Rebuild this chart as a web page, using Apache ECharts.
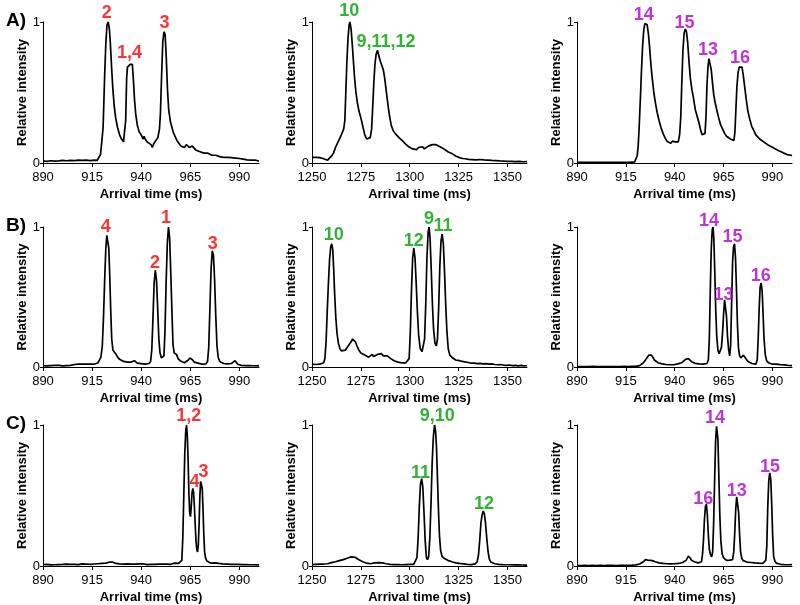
<!DOCTYPE html>
<html>
<head>
<meta charset="utf-8">
<script src="https://cdn.jsdelivr.net/npm/echarts@6/dist/echarts.min.js"></script>
<style>
html,body{margin:0;padding:0;background:#fff;}
#chart{width:800px;height:605px;}
</style>
</head>
<body>
<div id="chart"></div>
<script>
// ---------- tick labels ----------
const ticksLow = [890, 915, 940, 965, 990];
const ticksHigh = [1250, 1275, 1300, 1325, 1350];
const rangeLow = [890, 1000];
const rangeHigh = [1250, 1360];
const rowLetters = ['A)', 'B)', 'C)'];
const xName = 'Arrival time (ms)';
const yName = 'Relative intensity';
const labelColors = ['#ff0000', '#00a000', '#b000d0'];

// ---------- traces [arrival time (ms), relative intensity] ----------
const traceA1 = [[890,0.015],[892,0.012],[894,0.016],[896,0.013],[898,0.015],[900,0.018],[902,0.016],[904,0.019],[906,0.017],[908,0.02],[910,0.018],[912,0.021],[914,0.017],[916,0.02],[917.5,0.018],[918.5,0.03],[919.3,0.06],[920,0.16],[920.6,0.25],[921.4,0.62],[922,0.85],[922.6,0.98],[923.2,1.0],[923.8,0.95],[924.3,0.85],[925,0.66],[925.6,0.52],[926.3,0.40],[927,0.32],[928,0.25],[929,0.2],[930,0.17],[931,0.15],[931.6,0.16],[932.1,0.3],[932.6,0.6],[933,0.68],[933.7,0.69],[934.4,0.7],[935,0.71],[935.5,0.7],[936,0.6],[936.6,0.45],[937.2,0.35],[938,0.27],[939,0.22],[940,0.2],[940.6,0.21],[941,0.17],[941.5,0.19],[942,0.17],[943,0.15],[944,0.15],[945,0.13],[945.7,0.11],[946.5,0.14],[947.5,0.15],[948.5,0.18],[949.3,0.24],[949.8,0.35],[950.4,0.62],[951,0.86],[951.6,0.93],[952.2,0.91],[952.8,0.74],[953.4,0.52],[954,0.38],[954.8,0.3],[955.5,0.26],[956.3,0.22],[957.2,0.19],[958.2,0.16],[959.2,0.14],[960.2,0.12],[961.2,0.11],[962,0.11],[963,0.13],[963.8,0.14],[964.5,0.11],[965.3,0.10],[966,0.12],[967,0.11],[968,0.09],[969,0.095],[970,0.08],[971,0.075],[972,0.07],[973,0.063],[974,0.07],[975,0.06],[976,0.055],[977,0.06],[978,0.055],[979,0.05],[980,0.045],[981,0.05],[982,0.04],[983,0.042],[984,0.04],[985,0.035],[986,0.038],[987,0.032],[988,0.035],[989,0.03],[990,0.032],[991,0.026],[992,0.028],[993,0.024],[994,0.022],[995,0.025],[996,0.02],[997,0.018],[998,0.02],[999,0.015],[1000,0.014]];

const traceA2 = [[1250,0.04],[1251,0.038],[1252,0.04],[1253,0.036],[1254,0.038],[1255,0.034],[1256,0.03],[1257,0.022],[1258,0.02],[1259,0.03],[1260,0.05],[1261,0.07],[1262,0.11],[1263,0.14],[1264,0.17],[1265,0.2],[1265.6,0.22],[1266.2,0.24],[1266.8,0.3],[1267.3,0.5],[1267.8,0.7],[1268.4,0.88],[1269,0.98],[1269.4,1.0],[1270,0.95],[1270.6,0.84],[1271.2,0.72],[1271.8,0.6],[1272.5,0.5],[1273.2,0.43],[1274,0.37],[1275,0.32],[1276,0.26],[1277,0.2],[1278,0.17],[1279,0.16],[1279.8,0.18],[1280.5,0.24],[1281,0.38],[1281.6,0.56],[1282.2,0.7],[1282.8,0.77],[1283.5,0.8],[1284.2,0.76],[1285,0.72],[1285.8,0.69],[1286.5,0.66],[1287.2,0.6],[1288,0.51],[1288.8,0.42],[1289.6,0.34],[1290.5,0.27],[1291.5,0.23],[1292.5,0.21],[1293.5,0.2],[1294.5,0.18],[1295.5,0.17],[1296.5,0.155],[1297.5,0.14],[1298.5,0.135],[1299.5,0.115],[1300.5,0.11],[1301.5,0.1],[1302.5,0.105],[1303.5,0.095],[1304.5,0.11],[1305.5,0.1],[1306.5,0.115],[1307.5,0.1],[1308.5,0.11],[1309.5,0.12],[1310.5,0.125],[1311.5,0.13],[1312.5,0.14],[1313.5,0.13],[1314.5,0.135],[1315.5,0.115],[1316.5,0.11],[1317.5,0.1],[1318.5,0.09],[1319.5,0.08],[1320.5,0.07],[1321.5,0.068],[1322.5,0.055],[1323.5,0.05],[1324.5,0.045],[1325.5,0.038],[1327,0.032],[1328.5,0.03],[1330,0.026],[1332,0.024],[1334,0.022],[1336,0.025],[1338,0.022],[1340,0.02],[1342,0.018],[1344,0.017],[1346,0.015],[1348,0.014],[1350,0.012],[1352,0.012],[1354,0.01],[1356,0.011],[1358,0.009],[1360,0.01]];

const traceA3 = [[890,0.005],[893,0.004],[896,0.005],[899,0.004],[902,0.005],[905,0.004],[908,0.005],[911,0.004],[914,0.005],[917,0.005],[919.5,0.008],[920.3,0.02],[920.8,0.05],[921.3,0.12],[921.8,0.25],[922.4,0.45],[923,0.66],[923.6,0.84],[924.2,0.95],[924.8,0.99],[925.3,1.0],[925.9,0.98],[926.5,0.92],[927.1,0.83],[927.8,0.7],[928.5,0.6],[929.3,0.5],[930.2,0.42],[931,0.36],[932,0.3],[933,0.25],[934,0.21],[935,0.18],[936,0.155],[937,0.145],[938,0.14],[938.8,0.155],[939.5,0.16],[940.2,0.15],[941,0.14],[941.8,0.15],[942.5,0.2],[943.1,0.33],[943.6,0.56],[944.2,0.8],[944.8,0.92],[945.4,0.95],[946,0.93],[946.6,0.86],[947.3,0.72],[948,0.6],[948.8,0.52],[949.6,0.46],[950.5,0.38],[951.5,0.33],[952.5,0.28],[953.3,0.23],[954,0.2],[954.8,0.19],[955.5,0.21],[956,0.33],[956.5,0.55],[957,0.68],[957.5,0.74],[958.1,0.74],[958.7,0.66],[959.3,0.57],[960,0.48],[960.8,0.42],[961.6,0.37],[962.5,0.32],[963.5,0.27],[964.5,0.24],[965.5,0.21],[966.5,0.19],[967.5,0.18],[968.5,0.17],[969.5,0.165],[970.3,0.16],[970.8,0.22],[971.3,0.38],[971.8,0.54],[972.4,0.64],[973,0.68],[973.7,0.69],[974.4,0.68],[975,0.63],[975.7,0.55],[976.5,0.46],[977.4,0.37],[978.4,0.31],[979.4,0.26],[980.5,0.23],[981.5,0.2],[982.5,0.19],[983.5,0.17],[984.5,0.16],[985.5,0.15],[986.5,0.14],[987.5,0.13],[988.5,0.12],[989.5,0.115],[990.5,0.11],[991.5,0.1],[992.5,0.09],[993.5,0.085],[994.5,0.08],[995.5,0.072],[996.5,0.065],[997.5,0.06],[998.5,0.058],[999.5,0.055],[1000,0.052]];

const traceB1 = [[890,0.01],[891,0.015],[892,0.008],[893,0.012],[894,0.01],[895,0.007],[896,0.011],[897,0.009],[898,0.012],[899,0.01],[900,0.008],[901,0.012],[902,0.01],[903,0.014],[904,0.012],[905,0.016],[906,0.018],[907,0.016],[908,0.02],[909,0.018],[910,0.02],[911,0.017],[912,0.02],[913,0.018],[914,0.02],[915,0.022],[916,0.02],[917,0.025],[918,0.03],[918.8,0.04],[919.5,0.07],[920.2,0.15],[920.8,0.35],[921.4,0.62],[922,0.85],[922.5,0.94],[923,0.95],[923.5,0.85],[924,0.65],[924.5,0.4],[925,0.2],[925.6,0.12],[926.3,0.11],[927,0.095],[928,0.07],[929,0.055],[930,0.045],[931,0.04],[932,0.035],[933,0.035],[934,0.03],[935,0.035],[936,0.04],[936.5,0.045],[937,0.035],[938,0.028],[939,0.025],[940,0.024],[941,0.022],[942,0.02],[943,0.022],[944,0.025],[944.8,0.04],[945.4,0.12],[946,0.35],[946.6,0.6],[947.2,0.69],[947.8,0.62],[948.4,0.42],[949,0.2],[949.6,0.1],[950.3,0.065],[951,0.06],[951.6,0.08],[952.1,0.25],[952.7,0.6],[953.3,0.88],[953.9,1.0],[954.5,0.92],[955.1,0.66],[955.7,0.38],[956.2,0.16],[956.8,0.1],[957.4,0.11],[958,0.09],[958.8,0.06],[959.8,0.045],[960.8,0.035],[962,0.03],[963,0.035],[964,0.05],[964.8,0.065],[965.5,0.07],[966.2,0.05],[967,0.035],[968,0.03],[969,0.028],[970,0.025],[971,0.02],[972,0.02],[973,0.022],[973.8,0.04],[974.4,0.14],[975,0.42],[975.6,0.7],[976.2,0.83],[976.8,0.8],[977.4,0.62],[978,0.36],[978.6,0.15],[979.2,0.07],[980,0.04],[981,0.03],[982,0.025],[983,0.02],[984,0.022],[985,0.02],[986,0.025],[987,0.03],[987.8,0.045],[988.5,0.04],[989.2,0.02],[990,0.015],[991,0.012],[992,0.014],[993,0.01],[994,0.012],[995,0.01],[996,0.013],[997,0.009],[998,0.011],[999,0.008],[1000,0.01]];

const traceB2 = [[1250,0.02],[1251,0.022],[1252,0.018],[1253,0.022],[1254,0.02],[1255,0.024],[1256,0.03],[1256.6,0.06],[1257.2,0.18],[1257.8,0.4],[1258.4,0.6],[1259,0.77],[1259.6,0.86],[1260.1,0.88],[1260.6,0.84],[1261.1,0.7],[1261.6,0.52],[1262.2,0.35],[1262.8,0.24],[1263.5,0.17],[1264.3,0.13],[1265,0.115],[1266,0.11],[1267,0.12],[1268,0.13],[1269,0.16],[1270,0.18],[1270.8,0.2],[1271.5,0.21],[1272.2,0.18],[1273,0.15],[1274,0.12],[1275,0.1],[1276,0.09],[1277,0.085],[1278,0.075],[1279,0.07],[1280,0.08],[1280.8,0.09],[1281.5,0.075],[1282.5,0.07],[1283.5,0.09],[1284.5,0.085],[1285.5,0.095],[1286.5,0.08],[1287.5,0.07],[1288.5,0.08],[1289.5,0.09],[1290.3,0.06],[1291,0.05],[1292,0.045],[1293,0.04],[1294,0.035],[1295,0.035],[1296,0.03],[1297,0.032],[1298,0.03],[1299,0.03],[1299.7,0.06],[1300.3,0.25],[1300.9,0.55],[1301.5,0.78],[1302.1,0.85],[1302.7,0.78],[1303.3,0.6],[1303.9,0.4],[1304.6,0.22],[1305.4,0.13],[1306.3,0.11],[1307,0.12],[1307.6,0.2],[1308.2,0.45],[1308.8,0.78],[1309.4,0.96],[1309.9,1.0],[1310.4,0.92],[1311,0.7],[1311.6,0.45],[1312.2,0.27],[1312.9,0.17],[1313.6,0.15],[1314.2,0.2],[1314.8,0.42],[1315.4,0.72],[1316,0.9],[1316.6,0.95],[1317.2,0.88],[1317.8,0.68],[1318.4,0.45],[1319,0.26],[1319.7,0.13],[1320.5,0.085],[1321.5,0.07],[1322.5,0.06],[1323.5,0.05],[1324.5,0.042],[1325.5,0.045],[1326.5,0.035],[1327.5,0.038],[1328.5,0.03],[1330,0.032],[1331.5,0.027],[1333,0.028],[1334.5,0.024],[1336,0.026],[1337.5,0.022],[1339,0.024],[1340.5,0.02],[1342,0.022],[1343.5,0.018],[1345,0.016],[1346.5,0.018],[1348,0.014],[1349.5,0.012],[1351,0.014],[1352.5,0.01],[1354,0.012],[1355.5,0.008],[1357,0.011],[1358.5,0.008],[1360,0.009]];

const traceB3 = [[890,0.003],[892,0.002],[894,0.003],[896,0.002],[898,0.004],[900,0.003],[902,0.002],[904,0.003],[906,0.003],[908,0.002],[910,0.003],[912,0.003],[914,0.004],[916,0.003],[918,0.004],[920,0.005],[921,0.006],[922,0.01],[923,0.015],[924,0.03],[925,0.05],[926,0.07],[926.8,0.085],[927.4,0.09],[928,0.085],[928.8,0.07],[929.6,0.05],[930.5,0.038],[931.5,0.03],[932.5,0.025],[933.5,0.022],[934.5,0.02],[935.5,0.018],[936.5,0.017],[937.5,0.016],[938.5,0.018],[939.5,0.016],[940.5,0.02],[941.5,0.022],[942.5,0.025],[943.5,0.03],[944.5,0.04],[945.5,0.055],[946.3,0.065],[947,0.06],[947.8,0.05],[948.6,0.038],[949.5,0.03],[950.5,0.026],[951.5,0.024],[952.5,0.022],[953.5,0.02],[954.5,0.02],[955.5,0.022],[956.5,0.025],[957.2,0.05],[957.7,0.2],[958.2,0.55],[958.7,0.85],[959.2,0.98],[959.6,1.0],[960,0.92],[960.5,0.68],[961,0.4],[961.5,0.22],[962.1,0.12],[962.7,0.095],[963.3,0.1],[963.9,0.14],[964.5,0.25],[965,0.38],[965.5,0.48],[966,0.47],[966.5,0.36],[967,0.22],[967.6,0.12],[968.1,0.08],[968.6,0.15],[969.1,0.45],[969.6,0.75],[970.1,0.86],[970.6,0.88],[971.1,0.78],[971.6,0.55],[972.1,0.3],[972.6,0.14],[973.2,0.08],[973.8,0.065],[974.5,0.075],[975.2,0.085],[975.9,0.075],[976.6,0.055],[977.5,0.04],[978.5,0.03],[979.5,0.025],[980.5,0.022],[981.5,0.02],[982.2,0.05],[982.7,0.2],[983.2,0.42],[983.7,0.57],[984.2,0.6],[984.7,0.55],[985.2,0.38],[985.7,0.2],[986.3,0.09],[987,0.045],[988,0.03],[989,0.025],[990,0.02],[991,0.018],[992,0.02],[993,0.015],[994,0.017],[995,0.013],[996,0.015],[997,0.01],[998,0.012],[999,0.008],[1000,0.01]];

const traceC1 = [[890,0.01],[891,0.008],[892,0.012],[893,0.01],[894,0.008],[895,0.011],[896,0.009],[897,0.012],[898,0.01],[899,0.007],[900,0.011],[901,0.009],[902,0.013],[903,0.01],[904,0.012],[905,0.016],[906,0.012],[907,0.014],[908,0.01],[909,0.013],[910,0.015],[911,0.012],[912,0.014],[913,0.01],[914,0.012],[915,0.011],[916,0.014],[917,0.012],[918,0.016],[919,0.014],[920,0.018],[921,0.016],[922,0.02],[923,0.024],[924,0.028],[924.7,0.035],[925.4,0.028],[926,0.022],[927,0.018],[928,0.02],[929,0.015],[930,0.018],[931,0.014],[932,0.012],[933,0.015],[934,0.011],[935,0.013],[936,0.01],[937,0.014],[938,0.012],[939,0.015],[940,0.012],[941,0.016],[942,0.013],[943,0.01],[944,0.013],[945,0.011],[946,0.014],[947,0.012],[948,0.01],[949,0.013],[950,0.011],[951,0.014],[952,0.01],[953,0.013],[954,0.016],[955,0.012],[956,0.015],[957,0.02],[958,0.016],[959,0.018],[960,0.015],[960.7,0.04],[961.2,0.2],[961.7,0.5],[962.2,0.8],[962.7,0.96],[963.1,1.0],[963.5,0.92],[963.9,0.75],[964.3,0.52],[964.7,0.38],[965.1,0.35],[965.5,0.42],[965.9,0.52],[966.3,0.55],[966.7,0.52],[967.1,0.42],[967.5,0.3],[967.9,0.18],[968.3,0.12],[968.7,0.1],[969.1,0.15],[969.5,0.3],[969.9,0.5],[970.3,0.6],[970.7,0.61],[971.1,0.55],[971.5,0.4],[971.9,0.22],[972.3,0.1],[972.8,0.055],[973.5,0.035],[974.5,0.025],[975.5,0.02],[976.5,0.018],[977.5,0.022],[978.5,0.016],[979.5,0.018],[980.5,0.014],[981.5,0.015],[982.5,0.012],[983.5,0.014],[984.5,0.011],[985.5,0.012],[986.5,0.01],[987.5,0.012],[988.5,0.009],[989.5,0.011],[990.5,0.009],[991.5,0.01],[992.5,0.008],[993.5,0.01],[994.5,0.008],[995.5,0.009],[996.5,0.007],[997.5,0.009],[998.5,0.007],[1000,0.008]];

const traceC2 = [[1250,0.01],[1251,0.008],[1252,0.012],[1253,0.01],[1254,0.013],[1255,0.011],[1256,0.014],[1257,0.012],[1258,0.016],[1259,0.018],[1260,0.024],[1261,0.026],[1262,0.03],[1263,0.035],[1264,0.038],[1265,0.042],[1266,0.045],[1267,0.05],[1268,0.055],[1269,0.06],[1270,0.065],[1271,0.058],[1272,0.062],[1273,0.05],[1274,0.045],[1275,0.035],[1276,0.03],[1277,0.026],[1278,0.02],[1279,0.018],[1280,0.016],[1281,0.02],[1282,0.022],[1283,0.025],[1284,0.024],[1285,0.026],[1286,0.022],[1287,0.018],[1288,0.016],[1289,0.013],[1290,0.012],[1291,0.014],[1292,0.01],[1293,0.012],[1294,0.01],[1295,0.011],[1296,0.009],[1297,0.012],[1298,0.01],[1299,0.012],[1300,0.011],[1301,0.013],[1302,0.012],[1303,0.018],[1303.7,0.06],[1304.3,0.2],[1304.9,0.42],[1305.5,0.58],[1306.1,0.62],[1306.7,0.56],[1307.3,0.38],[1307.9,0.18],[1308.5,0.06],[1309.1,0.045],[1309.7,0.07],[1310.3,0.2],[1310.9,0.45],[1311.5,0.74],[1312.1,0.92],[1312.7,1.0],[1313.2,0.96],[1313.7,0.84],[1314.2,0.62],[1314.7,0.4],[1315.2,0.22],[1315.8,0.11],[1316.5,0.07],[1317.5,0.055],[1318.5,0.045],[1319.5,0.04],[1320.5,0.035],[1321.5,0.03],[1322.5,0.028],[1323.5,0.022],[1324.5,0.02],[1325.5,0.018],[1326.5,0.016],[1327.5,0.015],[1328.5,0.014],[1329.5,0.012],[1330.5,0.013],[1331.5,0.01],[1332.5,0.012],[1333.5,0.015],[1334.5,0.03],[1335.2,0.08],[1335.8,0.18],[1336.4,0.3],[1337,0.36],[1337.6,0.39],[1338.2,0.37],[1338.8,0.3],[1339.4,0.2],[1340,0.11],[1340.7,0.05],[1341.5,0.028],[1342.5,0.02],[1343.5,0.016],[1344.5,0.014],[1345.5,0.012],[1346.5,0.013],[1347.5,0.01],[1348.5,0.012],[1349.5,0.009],[1350.5,0.011],[1351.5,0.009],[1352.5,0.01],[1353.5,0.008],[1354.5,0.01],[1355.5,0.008],[1356.5,0.009],[1357.5,0.007],[1358.5,0.009],[1359.5,0.006],[1360,0.008]];

const traceC3 = [[890,0.004],[892,0.003],[894,0.004],[896,0.003],[898,0.004],[900,0.003],[902,0.004],[904,0.003],[906,0.004],[908,0.004],[910,0.003],[912,0.005],[914,0.004],[916,0.005],[918,0.006],[920,0.008],[921,0.01],[922,0.014],[923,0.02],[924,0.03],[925,0.045],[925.6,0.05],[926.2,0.042],[926.8,0.05],[927.4,0.04],[928,0.048],[928.6,0.038],[929.3,0.04],[930,0.03],[931,0.028],[932,0.022],[933,0.025],[934,0.018],[935,0.02],[936,0.016],[937,0.018],[938,0.015],[939,0.018],[940,0.016],[941,0.02],[942,0.018],[943,0.022],[944,0.025],[945,0.03],[945.8,0.04],[946.4,0.05],[947,0.07],[947.5,0.075],[948,0.055],[948.6,0.04],[949.2,0.045],[950,0.03],[951,0.025],[952,0.022],[953,0.025],[953.7,0.03],[954.2,0.08],[954.7,0.18],[955.2,0.33],[955.7,0.42],[956.2,0.44],[956.7,0.36],[957.2,0.22],[957.7,0.12],[958.3,0.08],[958.9,0.065],[959.4,0.1],[959.9,0.3],[960.4,0.6],[960.9,0.88],[961.4,0.99],[961.7,1.0],[962.1,0.9],[962.6,0.62],[963.1,0.35],[963.6,0.18],[964.2,0.09],[964.9,0.06],[965.7,0.05],[966.5,0.04],[967.3,0.038],[968.1,0.042],[968.9,0.04],[969.6,0.045],[970.2,0.1],[970.7,0.23],[971.2,0.4],[971.7,0.49],[972.2,0.49],[972.7,0.38],[973.2,0.22],[973.7,0.1],[974.3,0.055],[975,0.038],[976,0.03],[977,0.028],[978,0.022],[979,0.025],[980,0.02],[981,0.022],[982,0.018],[983,0.02],[984,0.017],[985,0.019],[986,0.02],[986.6,0.04],[987.1,0.14],[987.6,0.42],[988.1,0.6],[988.6,0.66],[989.1,0.62],[989.6,0.45],[990.1,0.22],[990.6,0.07],[991.2,0.035],[992,0.02],[993,0.018],[994,0.012],[995,0.016],[996,0.01],[997,0.014],[998,0.009],[999,0.012],[1000,0.01]];

// ---------- peak annotations [time, intensity at label centre, text] ----------
const peaksA1 = [[922.5,1.066,'2'],[934.1,0.777,'1,4'],[951.9,0.995,'3']];
const peaksA2 = [[1269.1,1.08,'10'],[1287.9,0.86,'9,11,12']];
const peaksA3 = [[924.2,1.05,'14'],[945.0,0.99,'15'],[957.0,0.80,'13'],[973.4,0.742,'16']];
const peaksB1 = [[921.9,1.0,'4'],[947.1,0.743,'2'],[952.7,1.067,'1'],[976.4,0.88,'3']];
const peaksB2 = [[1261.1,0.94,'10'],[1302.1,0.9,'12'],[1309.8,1.06,'9'],[1317.0,1.01,'11']];
const peaksB3 = [[957.5,1.04,'14'],[969.5,0.93,'15'],[964.9,0.517,'13'],[984.0,0.648,'16']];
const peaksC1 = [[964.2,1.064,'1,2'],[967.1,0.597,'4'],[971.7,0.668,'3']];
const peaksC2 = [[1314.1,1.064,'9,10'],[1305.5,0.661,'11'],[1338.0,0.443,'12']];
const peaksC3 = [[960.6,1.048,'14'],[954.6,0.472,'16'],[971.7,0.533,'13'],[988.8,0.704,'15']];

// ---------- layout ----------
const colLeft = [43, 312, 577];
const colWidth = [216, 215, 215];
const rowTop = [22, 227, 425];
const rowHeight = [141, 140, 141];

const traces = [traceA1, traceA2, traceA3, traceB1, traceB2, traceB3, traceC1, traceC2, traceC3];
const peaks = [peaksA1, peaksA2, peaksA3, peaksB1, peaksB2, peaksB3, peaksC1, peaksC2, peaksC3];

const FONT = '"Liberation Sans", Arial, sans-serif';
const grids = [], xAxes = [], yAxes = [], series = [];

for (let r = 0; r < 3; r++) {
  for (let c = 0; c < 3; c++) {
    const i = r * 3 + c;
    const range = c === 1 ? rangeHigh : rangeLow;
    const ticks = c === 1 ? ticksHigh : ticksLow;
    grids.push({ left: colLeft[c], top: rowTop[r], width: colWidth[c], height: rowHeight[r], containLabel: false });
    xAxes.push({
      gridIndex: i, type: 'value', min: range[0], max: range[1],
      axisLine: { show: true, lineStyle: { color: '#000', width: 1 } },
      axisTick: { show: true, length: 4, lineStyle: { color: '#000' }, customValues: ticks },
      axisLabel: { customValues: ticks, formatter: v => String(v), fontSize: 13, color: '#000', margin: 8, fontFamily: FONT },
      splitLine: { show: false },
      name: xName, nameLocation: 'middle', nameGap: 25,
      nameTextStyle: { fontSize: 13, fontWeight: 'bold', color: '#000', fontFamily: FONT }
    });
    yAxes.push({
      gridIndex: i, type: 'value', min: 0, max: 1, interval: 1,
      axisLine: { show: true, lineStyle: { color: '#000', width: 1 } },
      axisTick: { show: true, length: 3, lineStyle: { color: '#000' } },
      axisLabel: { fontSize: 13, color: '#000', margin: 3, fontFamily: FONT },
      splitLine: { show: false },
      name: yName, nameLocation: 'middle', nameGap: 12, nameRotate: 90,
      nameTextStyle: { fontSize: 13, fontWeight: 'bold', color: '#000', fontFamily: FONT }
    });
    series.push({
      type: 'line', xAxisIndex: i, yAxisIndex: i, data: traces[i],
      showSymbol: false, symbol: 'none', clip: false,
      lineStyle: { color: '#000', width: 1.7 }, z: 2
    });
    series.push({
      type: 'scatter', xAxisIndex: i, yAxisIndex: i, data: peaks[i],
      symbolSize: 1, itemStyle: { color: 'transparent' }, clip: false, z: 5,
      encode: { x: 0, y: 1 },
      label: {
        show: true, position: 'inside',
        formatter: p => p.value[2],
        color: labelColors[c], fontSize: 18, fontWeight: 'bold', fontFamily: FONT
      }
    });
  }
}

const graphics = rowLetters.map((t, r) => ({
  type: 'text', left: 6, top: rowTop[r] - 11,
  style: { text: t, font: 'bold 19px ' + FONT, fill: '#000' }
}));

const chart = echarts.init(document.getElementById('chart'), null, { renderer: 'canvas' });
chart.setOption({
  animation: false,
  backgroundColor: '#fff',
  textStyle: { fontFamily: FONT },
  grid: grids, xAxis: xAxes, yAxis: yAxes, series: series,
  graphic: graphics
});
</script>
</body>
</html>
